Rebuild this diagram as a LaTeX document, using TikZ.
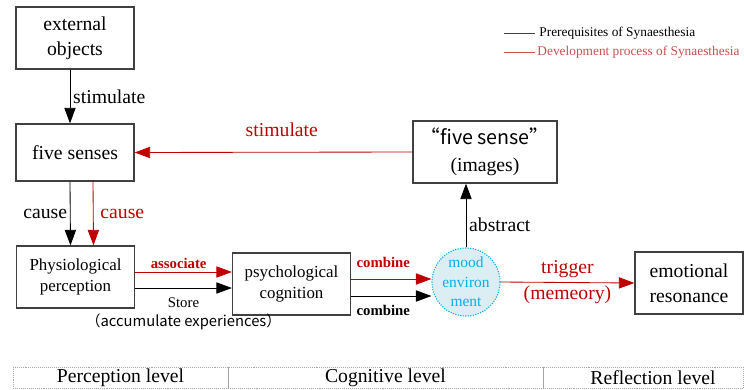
\documentclass[tikz,border=0pt]{standalone}
\usepackage{fontspec}
\setmainfont{Liberation Serif}
\newfontfamily\cjk{Noto Sans CJK SC}
\usepackage{tikz}
\usetikzlibrary{positioning, arrows.meta, shapes.geometric}
\definecolor{synred}{RGB}{192,0,0}
\definecolor{legred}{RGB}{200,80,80}
\definecolor{moodblue}{RGB}{0,176,240}
\definecolor{moodfill}{RGB}{218,238,243}
\definecolor{boxgray}{RGB}{64,64,64}

\begin{document}
\begin{tikzpicture}[x=0.025cm, y=-0.025cm, >={Triangle[length=11pt,width=8pt]}]
    \tikzstyle{box} = [draw=boxgray, line width=0.9pt, rectangle, minimum width=2.95cm, minimum height=1.55cm, align=center, fill=white, font=\fontsize{14}{17.5}\selectfont]
    \tikzstyle{smallbox} = [box, font=\fontsize{12}{15.5}\selectfont]
    \tikzstyle{mood} = [draw=moodblue, densely dotted, line width=0.8pt, circle, fill=moodfill, minimum size=1.7cm, inner sep=0pt]
    \tikzstyle{lbl} = [inner sep=2pt, font=\fontsize{14}{16}\selectfont]
    \tikzstyle{tiny} = [inner sep=2pt, font=\bfseries\fontsize{10.5}{12}\selectfont]
    \tikzstyle{cell} = [draw=gray!70, densely dotted, rectangle, minimum height=0.525cm, inner sep=0pt, font=\fontsize{14}{16}\selectfont]
    \tikzstyle{conn} = [->, line width=0.6pt]

    \useasboundingbox (0,0) rectangle (744,389);

    % Blocchi principali
    \node[box] (ext) at (75,38) {external\\objects};
    \node[box, minimum height=1.425cm] (five) at (75,152.5) {five senses};
    \node[smallbox] (phys) at (75.5,277) {Physiological\\perception};
    \node[smallbox, font=\fontsize{12}{15}\selectfont] (psy) at (291.5,284) {psychological\\cognition};
    \node[box, minimum width=3.6cm, font=\fontsize{14}{19}\selectfont] (img) at (485,152) {\cjk{“}five sense\cjk{”}\\(images)};
    \node[box, minimum width=2.7cm] (emo) at (689,283) {emotional\\resonance};
    \node[mood] (mood) at (466,282) {};
    \node[moodblue, align=center, font=\fontsize{11}{14}\selectfont] (moodlbl) at (mood) {mood\\environ\\ment};

    % Frecce nere
    \draw[conn] ([xshift=-0.125cm]ext.south) -- ([xshift=-0.125cm]five.north) node[lbl, midway, right] {stimulate};
    \draw[conn] ([xshift=-0.125cm]five.south) -- ([xshift=-0.125cm]phys.north) node[lbl, midway, left] {cause};
    \draw[conn] ([yshift=-0.275cm]phys.east) -- ([yshift=-0.275cm]phys.east -| psy.west)
        node[midway, below=0.2cm, align=center, inner sep=1pt, font=\fontsize{10.5}{13.5}\selectfont] {Store\\\cjk{（}accumulate experiences\cjk{）}};
    \draw[conn] ([yshift=-0.3cm]psy.east) -- ([yshift=-0.3cm]psy.east -| mood.west) node[tiny, pos=0.4, below=0.15cm] {combine};
    \draw[conn] (mood.north) -- (mood.north |- img.south) node[lbl, pos=0.35, right] {abstract};

    % Frecce rosse
    \draw[conn, synred] (img.west) -- (five.east) node[lbl, pos=0.47, above=0.3cm] {stimulate};
    \draw[conn, synred] ([xshift=0.45cm]five.south) -- ([xshift=0.45cm]phys.north) node[lbl, midway, right=0.1cm] {cause};
    \draw[conn, synred] ([yshift=0.125cm]phys.east) -- ([yshift=0.125cm]phys.east -| psy.west) node[tiny, pos=0.45, above] {associate};
    \draw[conn, synred] ([yshift=0.125cm]psy.east) -- ([yshift=0.125cm]psy.east -| mood.west) node[tiny, pos=0.4, above=0.2cm] {combine};
    \draw[conn, synred] (mood.east) -- (emo.west)
        node[lbl, midway, above=0.05cm] {trigger}
        node[lbl, midway, below=0cm] {(memeory)};

    % Legenda
    \coordinate (k1) at (504,33);
    \coordinate (k2) at (535,33);
    \coordinate (k3) at (504,52);
    \coordinate (k4) at (535,52);
    \draw[boxgray, line width=0.6pt] (k1) -- (k2) node[right=0.1cm, inner sep=0pt, black, font=\fontsize{9.5}{11}\selectfont] {Prerequisites of Synaesthesia};
    \draw[legred, line width=0.6pt] (k3) -- (k4) node[right=0.05cm, inner sep=0pt, font=\fontsize{9.5}{11}\selectfont] {Development process of Synaesthesia};

    % Livelli
    \node[cell, minimum width=5.375cm] (perc) at (120.5,377.5) {Perception level};
    \node[cell, minimum width=7.875cm] (cogn) at (385.5,377.5) {Cognitive level};
    \node[cell, minimum width=5cm] (refl) at (643,377.5) {\hspace{0.5cm}Reflection level};
\end{tikzpicture}
\end{document}
